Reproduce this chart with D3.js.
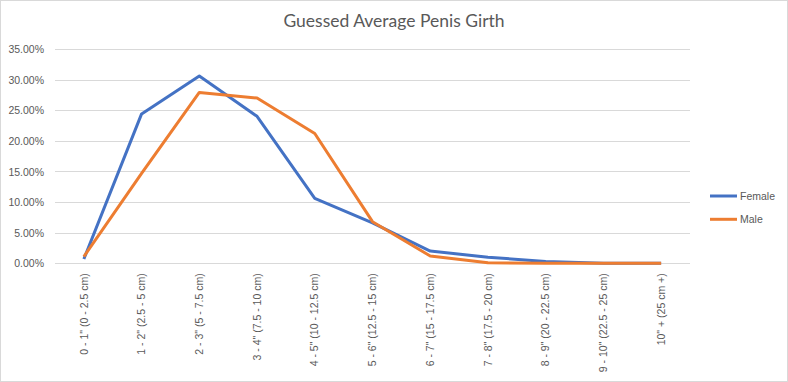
<!DOCTYPE html>
<html><head><meta charset="utf-8">
<script src="https://cdn.jsdelivr.net/npm/d3@7"></script>
<style>body{margin:0;background:#fff}svg{display:block}</style>
</head><body>
<svg id="c" width="788" height="382"></svg>
<script>
const categories = ['0 - 1" (0 - 2.5 cm)','1 - 2" (2.5 - 5 cm)','2 - 3" (5 - 7.5 cm)','3 - 4" (7.5 - 10 cm)','4 - 5" (10 - 12.5 cm)','5 - 6" (12.5 - 15 cm)','6 - 7" (15 - 17.5 cm)','7 - 8" (17.5 - 20 cm)','8 - 9" (20 - 22.5 cm)','9 - 10" (22.5 - 25 cm)','10" + (25 cm +)'];
const female = [0.7, 24.4, 30.6, 24.0, 10.6, 6.6, 2.0, 1.0, 0.3, 0.0, 0.0];
const male   = [1.1, 14.7, 27.9, 27.0, 21.2, 6.8, 1.2, 0.1, 0.0, 0.0, 0.0];
const yTicks = [0, 5, 10, 15, 20, 25, 30, 35];
const seriesNames = ["Female", "Male"];
const colors = ["#4472C4", "#ED7D31"];
const title = "Guessed Average Penis Girth";

const svg = d3.select("#c");
svg.append("rect").attr("x",0.5).attr("y",0.5).attr("width",787).attr("height",381)
  .attr("fill","#fff").attr("stroke","#d9d9d9");

const x = d3.scaleBand().domain(categories).range([55, 690]);
const y = d3.scaleLinear().domain([0, 35]).range([263.3, 49]);
const font = "'Liberation Sans', Arial, sans-serif";

svg.append("text").attr("x", 394).attr("y", 27).attr("text-anchor","middle")
  .attr("font-family","Lato, 'Open Sans', sans-serif").attr("font-size", 17.5).attr("fill","#595959")
  .text(title);

// gridlines
const yAxis = d3.axisLeft(y).tickValues(yTicks).tickSize(-(690-55)).tickFormat(d => d.toFixed(2) + "%");
const gy = svg.append("g").attr("transform","translate(55,0)").call(yAxis);
gy.select(".domain").remove();
gy.selectAll(".tick line").attr("stroke","#d9d9d9").attr("shape-rendering","crispEdges");
gy.selectAll(".tick text").attr("x", -11).attr("dy","0.35em").attr("fill","#595959")
  .attr("font-family", font).attr("font-size", 10.5);

// x axis
const xAxis = d3.axisBottom(x).tickSize(0);
const gx = svg.append("g").attr("transform", `translate(0,${y(0)})`).call(xAxis);
gx.select(".domain").remove();
gx.selectAll(".tick text").attr("transform","rotate(-90)").attr("text-anchor","end")
  .attr("x", -10).attr("y", 0).attr("dy","0.35em").attr("fill","#595959")
  .attr("font-family", font).attr("font-size", 10.5);

const line = d3.line().x((d,i) => x(categories[i]) + x.bandwidth()/2).y(d => y(d));
[female, male].forEach((s, k) => {
  svg.append("path").datum(s).attr("d", line).attr("fill","none")
    .attr("stroke", colors[k]).attr("stroke-width", 3).attr("stroke-linejoin","round");
});

// legend
seriesNames.forEach((n, k) => {
  const ly = 196 + k*23.3;
  svg.append("line").attr("x1",710).attr("x2",737).attr("y1",ly).attr("y2",ly)
    .attr("stroke", colors[k]).attr("stroke-width", 3);
  svg.append("text").attr("x", 740).attr("y", ly).attr("dy","0.35em")
    .attr("font-family", font).attr("font-size", 10.5).attr("fill","#595959").text(n);
});
</script>
</body></html>
